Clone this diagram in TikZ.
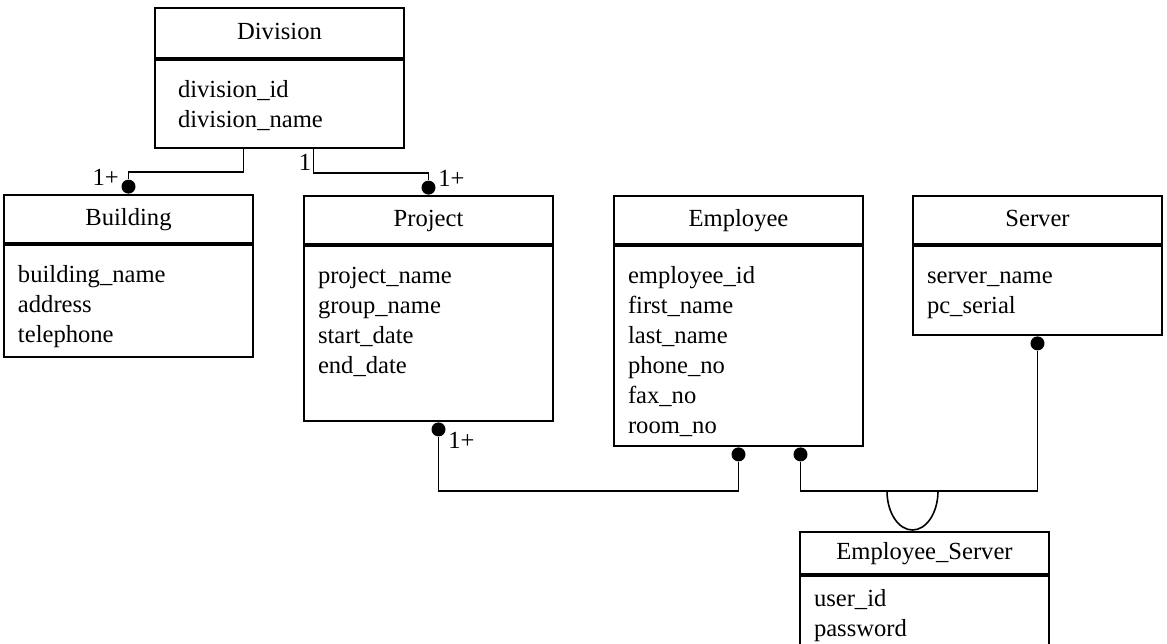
\documentclass[tikz,border=0pt]{standalone}
\usepackage{fontspec}
\setmainfont{Liberation Serif}
\usetikzlibrary{positioning,calc}
\tikzset{
  entity/.style={draw, line width=1pt, minimum width=124.5pt, minimum height=24pt, inner sep=0pt, text height=9pt, text depth=3pt, anchor=north west},
  attrs/.style={draw, line width=1pt, text width=110.5pt, inner xsep=7pt, inner ysep=0pt, text height=18.5pt, align=left},
  dot/.style={circle, fill, inner sep=0pt, minimum size=7pt},
  link/.style={line width=0.8pt},
  card/.style={inner sep=1pt}
}
\newcommand{\attlist}[1]{\begin{tabular}[t]{@{}l@{}}#1\end{tabular}}

\begin{document}
\begin{tikzpicture}[x=0.5pt, y=-0.5pt, font=\fontsize{12.3pt}{15pt}\selectfont]
  \useasboundingbox (0,0) rectangle (1167,643);

  % tables
  \node[entity, minimum height=25pt] (div) at (154,7) {Division};
  \node[attrs, below=0pt of div, text width=101.5pt, inner xsep=11.5pt, text depth=25.5pt] (div-body)
    {\attlist{division\_id\\division\_name}};

  \node[entity] (bld) at (3,194) {Building};
  \node[attrs, below=0pt of bld, text depth=37.5pt] (bld-body)
    {\attlist{building\_name\\address\\telephone}};

  \node[entity] (proj) at (303,195) {Project};
  \node[attrs, below=0pt of proj, text depth=69pt] (proj-body)
    {\attlist{project\_name\\group\_name\\start\_date\\end\_date}};

  \node[entity] (emp) at (613,195) {Employee};
  \node[attrs, below=0pt of emp, text depth=81.5pt] (emp-body)
    {\attlist{employee\_id\\first\_name\\last\_name\\phone\_no\\fax\_no\\room\_no}};

  \node[entity] (srv) at (912,195) {Server};
  \node[attrs, below=0pt of srv, text depth=26pt] (srv-body)
    {\attlist{server\_name\\pc\_serial}};

  \node[entity, minimum height=21pt] (es) at (799,531) {Employee\_Server};
  \node[attrs, below=0pt of es, text height=15pt, text depth=20pt] (es-body)
    {\attlist{user\_id\\password}};

  % relationships
  \coordinate (rail) at (0,491);
  \node[dot, above=0pt of bld] (bld-dot) {};
  \node[dot, above=0pt of proj] (proj-dot) {};
  \node[dot, below=0pt of proj-body, xshift=5pt] (projb-dot) {};
  \node[dot, below=0pt of emp-body] (emp-dot1) {};
  \node[dot, below=0pt of emp-body, xshift=31pt] (emp-dot2) {};
  \node[dot, below=0pt of srv-body] (srv-dot) {};

  \draw[link] ([xshift=-18pt]div-body.south) -- ++(0,-11.5pt) -| (bld-dot);
  \draw[link] ([xshift=17pt]div-body.south) -- ++(0,-12pt) coordinate (dp-turn) -| (proj-dot);
  \draw[link] (projb-dot) -- (projb-dot |- rail) -| (emp-dot1);
  \draw[link] (emp-dot2) -- (emp-dot2 |- rail) -| (srv-dot);
  \draw[link] ($(es.north |- rail)+(-18.75pt,0)$) arc[start angle=180, end angle=360, x radius=12.75pt, y radius=19.5pt];

  \node[card, left=0pt of bld-dot, yshift=4.5pt] (bld-card) {1+};
  \node[card, anchor=south east] (div-card) at (dp-turn) {1};
  \node[card, right=0pt of proj-dot, yshift=4.5pt] (proj-card) {1+};
  \node[card, right=0pt of projb-dot, yshift=-5.5pt] (projb-card) {1+};
\end{tikzpicture}
\end{document}
